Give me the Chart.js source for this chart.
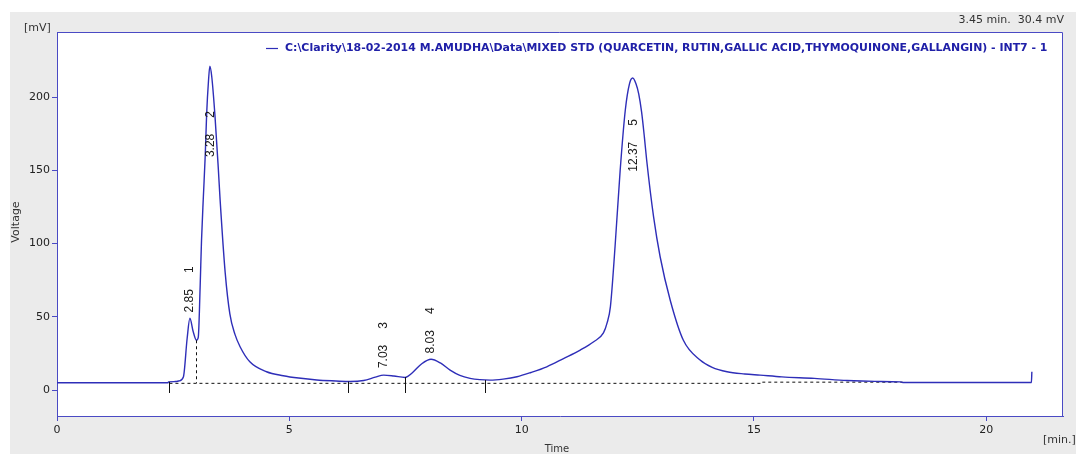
<!DOCTYPE html>
<html>
<head>
<meta charset="utf-8">
<script src="https://cdn.jsdelivr.net/npm/chart.js@4.4.0/dist/chart.umd.min.js"></script>
<style>
  html, body { margin: 0; padding: 0; background: #ffffff; }
  #wrap { width: 1076px; height: 454px; }
</style>
</head>
<body>
<div id="wrap"><canvas id="chroma" width="1076" height="454"></canvas></div>
<script>
// signal trace (min, mV)
var times = [0, 2.39, 2.40, 2.54, 2.62, 2.72, 2.80, 2.86, 2.93, 3.00, 3.04, 3.08, 3.11, 3.15, 3.19, 3.22, 3.26, 3.29, 3.33, 3.40, 3.47, 3.51, 3.62, 3.72, 3.83, 3.94, 4.15, 4.51, 4.87, 5.2, 5.59, 6.0, 6.31, 6.6, 6.85, 7.03, 7.25, 7.49, 7.55, 7.67, 7.85, 8.05, 8.25, 8.46, 8.67, 8.89, 9.1, 9.32, 9.6, 9.9, 10.2, 10.54, 10.9, 11.26, 11.55, 11.76, 11.84, 11.91, 12.01, 12.12, 12.23, 12.32, 12.39, 12.46, 12.52, 12.58, 12.64, 12.69, 12.84, 12.98, 13.2, 13.48, 13.84, 14.1, 14.42, 14.8, 15.13, 15.6, 16.3, 17.0, 17.6, 18.15, 18.2, 20.97, 20.98];
var volts = [5.0, 5.0, 5.6, 5.8, 6.2, 9, 35, 49, 40, 34, 36, 70, 102, 132, 160, 188, 211, 221, 214, 187, 152, 130, 80, 52, 38, 29.6, 19.3, 12.5, 9.8, 8.2, 6.9, 6.2, 5.8, 6.5, 8.8, 10.2, 9.6, 8.6, 9.4, 12.5, 18, 21, 18.5, 13.6, 10, 8, 7.1, 6.8, 7.5, 9.1, 12, 15.9, 21.5, 27.3, 33, 39, 46, 57, 98, 150, 191, 209, 213, 209, 202, 190, 173, 157, 118, 91, 61, 34, 20.5, 15.5, 12.5, 11, 10.2, 9, 8, 6.5, 5.9, 5.6, 5.2, 5.2, 12.5];

// integration baseline (dashed)
var baseTimes = [2.42, 15.18, 15.18, 18.2];
var baseVolts = [4.6, 4.6, 5.4, 5.4];

// peak start / end markers
var markTimes = [2.40, 6.27, 7.49, 9.21];
var markTops = [5.6, 5.8, 8.9, 6.8];
var dropTime = 2.99;
var dropTop = 34;

// peak labels
var peakTimes = [2.86, 3.31, 7.03, 8.05, 12.42];
var peakNames = ["2.85", "3.28", "7.03", "8.03", "12.37"];
var peakIds = ["1", "2", "3", "4", "5"];
var peakLabelAt = [53, 159, 15, 25, 149];

var xTicks = [0, 5, 10, 15, 20];
var yTicks = [0, 50, 100, 150, 200];

var legendText = "C:\\Clarity\\18-02-2014 M.AMUDHA\\Data\\MIXED STD (QUARCETIN, RUTIN,GALLIC ACID,THYMOQUINONE,GALLANGIN) - INT7 - 1";
var cursorText = "3.45 min.  30.4 mV";

var blue = "#2e2eb8";
var frame = "#4a4ac4";

function toPoints(xs, ys) {
    return xs.map(function (x, i) { return { x: x, y: ys[i] }; });
}

var decor = {
    id: "decor",
    beforeDraw: function (chart) {
        var c = chart.ctx, a = chart.chartArea;
        c.save();
        c.fillStyle = "#ffffff";
        c.fillRect(0, 0, chart.width, chart.height);
        c.fillStyle = "#ebebeb";
        c.fillRect(10, 12, chart.width - 10, chart.height - 12);
        c.fillStyle = "#ffffff";
        c.fillRect(a.left, a.top, a.right - a.left, a.bottom - a.top);
        c.restore();
    },
    afterDatasetsDraw: function (chart) {
        var c = chart.ctx, a = chart.chartArea;
        var xs = chart.scales.x, ys = chart.scales.y;
        c.save();

        // markers
        c.strokeStyle = "#111111";
        c.lineWidth = 1;
        markTimes.forEach(function (t, i) {
            var px = Math.round(xs.getPixelForValue(t)) + 0.5;
            c.beginPath();
            c.moveTo(px, ys.getPixelForValue(markTops[i]));
            c.lineTo(px, ys.getPixelForValue(-2));
            c.stroke();
        });
        c.setLineDash([3, 3]);
        var dx = Math.round(xs.getPixelForValue(dropTime)) + 0.5;
        c.beginPath();
        c.moveTo(dx, ys.getPixelForValue(dropTop));
        c.lineTo(dx, ys.getPixelForValue(baseVolts[0]));
        c.stroke();
        c.setLineDash([]);

        // peak labels
        c.fillStyle = "#1a1a1a";
        c.font = '12px "Liberation Sans", Arial, sans-serif';
        c.textBaseline = "middle";
        c.textAlign = "left";
        peakTimes.forEach(function (t, i) {
            var px = xs.getPixelForValue(t);
            var py = ys.getPixelForValue(peakLabelAt[i]);
            c.save();
            c.translate(px, py);
            c.rotate(-Math.PI / 2);
            c.fillText(peakNames[i], 0, 0);
            c.fillText(peakIds[i], c.measureText(peakNames[i]).width + 16, 0);
            c.restore();
        });

        // frame top / right
        c.strokeStyle = frame;
        c.lineWidth = 1;
        c.beginPath();
        c.moveTo(a.left, a.top + 0.5);
        c.lineTo(a.right - 0.5, a.top + 0.5);
        c.lineTo(a.right - 0.5, a.bottom);
        c.stroke();

        // legend
        var lx = 266, ly = 48;
        c.strokeStyle = blue;
        c.lineWidth = 1.2;
        c.beginPath();
        c.moveTo(lx, ly + 0.5);
        c.lineTo(lx + 12, ly + 0.5);
        c.stroke();
        var size = 11;
        c.font = 'bold ' + size + 'px "DejaVu Sans", sans-serif';
        var w = c.measureText(legendText).width;
        size = size * 763 / w;
        c.font = 'bold ' + size.toFixed(2) + 'px "DejaVu Sans", sans-serif';
        c.fillStyle = "#2020a8";
        c.fillText(legendText, lx + 19, ly);

        // other texts
        c.fillStyle = "#333333";
        c.font = '11px "DejaVu Sans", sans-serif';
        c.textAlign = "right";
        c.fillText(cursorText, 1064, 20);
        c.textAlign = "left";
        c.fillText("[mV]", 24, 28);
        c.fillText("[min.]", 1043, 440);
        c.textAlign = "center";
        c.font = '10px "DejaVu Sans", sans-serif';
        c.fillText("Time", 557, 449);
        c.save();
        c.translate(16, 222);
        c.rotate(-Math.PI / 2);
        c.font = '11px "DejaVu Sans", sans-serif';
        c.fillText("Voltage", 0, 0);
        c.restore();

        c.restore();
    }
};

var ctx = document.getElementById("chroma");

var chromaChart = new Chart(ctx, {
    type: "line",
    data: {
        datasets: [
            {
                label: "signal",
                data: toPoints(times, volts),
                borderColor: blue,
                borderWidth: 1.4,
                pointRadius: 0,
                fill: false,
                cubicInterpolationMode: "monotone"
            },
            {
                label: "baseline",
                data: toPoints(baseTimes, baseVolts),
                borderColor: "#111111",
                borderWidth: 1,
                borderDash: [3, 3],
                pointRadius: 0,
                fill: false,
                tension: 0
            }
        ]
    },
    options: {
        responsive: false,
        devicePixelRatio: 1,
        animation: false,
        layout: { padding: { top: 32, right: 13, left: 0, bottom: 0 } },
        plugins: { legend: { display: false }, tooltip: { enabled: false } },
        scales: {
            x: {
                type: "linear",
                min: 0,
                max: 21.65,
                afterFit: function (s) { s.height = 38; },
                afterBuildTicks: function (s) { s.ticks = xTicks.map(function (v) { return { value: v }; }); },
                grid: { drawOnChartArea: false, color: frame, tickLength: 5 },
                border: { color: frame, width: 1 },
                ticks: { color: "#222222", padding: 3, maxRotation: 0, font: { family: "DejaVu Sans", size: 11 } }
            },
            y: {
                type: "linear",
                min: -17.7,
                max: 244.4,
                afterFit: function (s) { s.width = 57; },
                afterBuildTicks: function (s) { s.ticks = yTicks.map(function (v) { return { value: v }; }); },
                grid: { drawOnChartArea: false, color: frame, tickLength: 5 },
                border: { color: frame, width: 1 },
                ticks: { color: "#222222", padding: 2, font: { family: "DejaVu Sans", size: 11 } }
            }
        }
    },
    plugins: [decor]
});
</script>
</body>
</html>
